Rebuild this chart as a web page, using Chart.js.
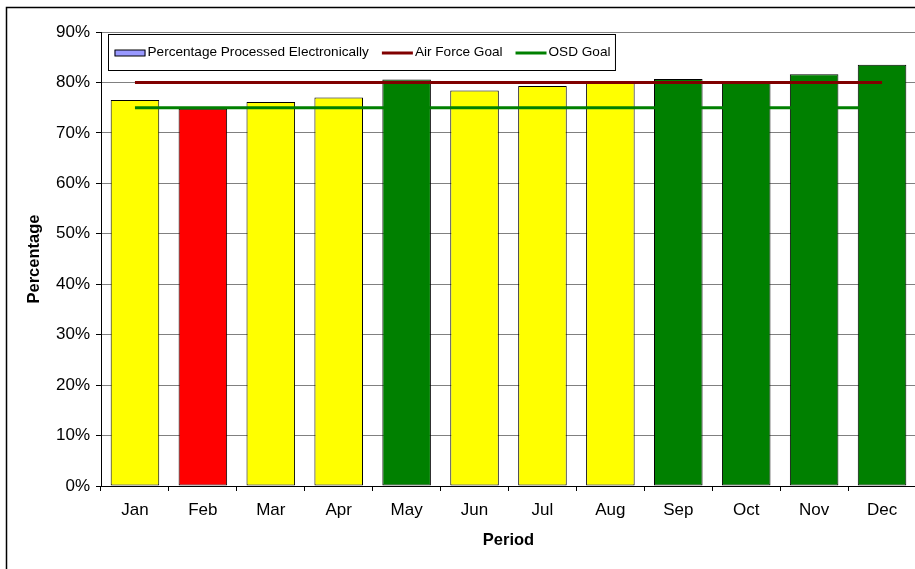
<!DOCTYPE html>
<html>
<head>
<meta charset="utf-8">
<title>Percentage Processed Electronically</title>
<script src="https://cdn.jsdelivr.net/npm/chart.js@4.4.1/dist/chart.umd.min.js"></script>
<style>
  html, body { margin: 0; padding: 0; background: #fff; overflow: hidden; }
  #wrap { width: 930px; height: 569px; position: relative; }
</style>
</head>
<body>
<div id="wrap"><canvas id="chart" width="930" height="569"></canvas></div>
<script>
// Monthly share of items processed electronically, with the two goal lines
const months = ['Jan', 'Feb', 'Mar', 'Apr', 'May', 'Jun', 'Jul', 'Aug', 'Sep', 'Oct', 'Nov', 'Dec'];
const pctElectronic = [0.765, 0.748, 0.761, 0.770, 0.806, 0.784, 0.793, 0.799, 0.807, 0.801, 0.816, 0.835];
const airForceGoal = [0.80, 0.80, 0.80, 0.80, 0.80, 0.80, 0.80, 0.80, 0.80, 0.80, 0.80, 0.80];
const osdGoal = [0.75, 0.75, 0.75, 0.75, 0.75, 0.75, 0.75, 0.75, 0.75, 0.75, 0.75, 0.75];
const yTickValues = [0, 0.1, 0.2, 0.3, 0.4, 0.5, 0.6, 0.7, 0.8, 0.9];

const FONT = "'Liberation Sans', Arial, Helvetica, sans-serif";

// Bar colour by status: below OSD goal red, below Air Force goal yellow, otherwise green
const barColors = pctElectronic.map((v, i) =>
  v < osdGoal[i] ? '#FF0000' : (v < airForceGoal[i] ? '#FFFF00' : '#008000'));

// Outer frame around the whole chart
const framePlugin = {
  id: 'frame',
  beforeDraw(chart) {
    const ctx = chart.ctx;
    ctx.save();
    ctx.fillStyle = '#fff';
    ctx.fillRect(0, 0, chart.width, chart.height);
    ctx.strokeStyle = '#000';
    ctx.lineWidth = 1.5;
    ctx.strokeRect(6.5, 7.5, chart.width + 20, chart.height + 20);
    ctx.restore();
  }
};

// Legend box sitting inside the plot area, top-left
const legendPlugin = {
  id: 'insideLegend',
  afterDatasetsDraw(chart) {
    const ctx = chart.ctx;
    const area = chart.chartArea;
    const items = [
      { label: chart.data.datasets[0].label, kind: 'box', color: '#9999FF' },
      { label: chart.data.datasets[1].label, kind: 'line', color: chart.data.datasets[1].borderColor },
      { label: chart.data.datasets[2].label, kind: 'line', color: chart.data.datasets[2].borderColor }
    ];
    ctx.save();
    ctx.font = '13.6px ' + FONT;
    const left = area.left + 7.5;
    const top = area.top + 2.5;
    const height = 36;
    const cy = top + height / 2;
    const symW = 31, symGap = 2, itemGap = 13, padL = 6, padR = 5;
    let total = padL;
    items.forEach((it, i) => {
      total += symW + symGap + ctx.measureText(it.label).width;
      if (i < items.length - 1) total += itemGap;
    });
    total += padR;
    ctx.fillStyle = '#fff';
    ctx.fillRect(left, top, total, height);
    ctx.strokeStyle = '#000';
    ctx.lineWidth = 1;
    ctx.strokeRect(left, top, total, height);

    let x = left + padL;
    ctx.textBaseline = 'middle';
    ctx.textAlign = 'left';
    items.forEach((it) => {
      if (it.kind === 'box') {
        ctx.fillStyle = it.color;
        ctx.fillRect(x, cy - 2.5, symW, 6);
        ctx.strokeStyle = '#000';
        ctx.lineWidth = 1;
        ctx.strokeRect(x + 0.5, cy - 2.5, symW - 1, 6);
      } else {
        ctx.strokeStyle = it.color;
        ctx.lineWidth = 3;
        ctx.beginPath();
        ctx.moveTo(x, cy + 0.5);
        ctx.lineTo(x + symW, cy + 0.5);
        ctx.stroke();
      }
      x += symW + symGap;
      ctx.fillStyle = '#000';
      ctx.fillText(it.label, x, cy);
      x += ctx.measureText(it.label).width + itemGap;
    });
    ctx.restore();
  }
};

new Chart(document.getElementById('chart'), {
  type: 'bar',
  data: {
    labels: months,
    datasets: [
      {
        type: 'bar',
        label: 'Percentage Processed Electronically',
        data: pctElectronic,
        backgroundColor: barColors,
        borderColor: '#000',
        borderWidth: 1,
        borderSkipped: false,
        barPercentage: 0.715,
        categoryPercentage: 1.0,
        order: 2
      },
      {
        type: 'line',
        label: 'Air Force Goal',
        data: airForceGoal,
        borderColor: '#800000',
        borderWidth: 3,
        pointRadius: 0,
        fill: false,
        tension: 0,
        order: 0
      },
      {
        type: 'line',
        label: 'OSD Goal',
        data: osdGoal,
        borderColor: '#008000',
        borderWidth: 3,
        pointRadius: 0,
        fill: false,
        tension: 0,
        order: 1
      }
    ]
  },
  options: {
    responsive: false,
    animation: false,
    devicePixelRatio: 1,
    layout: { padding: { top: 32, right: 14, bottom: 0, left: 0 } },
    plugins: {
      legend: { display: false },
      tooltip: { enabled: false }
    },
    scales: {
      x: {
        offset: true,
        grid: {
          display: true,
          drawOnChartArea: false,
          drawTicks: true,
          tickLength: 5,
          tickColor: '#000',
          offset: true
        },
        border: { display: true, color: '#000', width: 1 },
        ticks: {
          color: '#000',
          font: { family: FONT, size: 17 },
          padding: 9,
          maxRotation: 0,
          autoSkip: false
        },
        title: {
          display: true,
          text: 'Period',
          color: '#000',
          font: { family: FONT, size: 16.5, weight: 'bold' },
          padding: { top: 0, bottom: 19 }
        },
        afterFit(scale) { scale.height = 83; }
      },
      y: {
        min: 0,
        max: 0.9,
        afterBuildTicks(scale) { scale.ticks = yTickValues.map(v => ({ value: v })); },
        grid: {
          color: '#808080',
          lineWidth: 1,
          drawTicks: true,
          tickLength: 5,
          tickColor: '#000'
        },
        border: { display: true, color: '#000', width: 1 },
        ticks: {
          color: '#000',
          font: { family: FONT, size: 17 },
          padding: 6,
          callback: (v) => Math.round(v * 100) + '%'
        },
        title: {
          display: true,
          text: 'Percentage',
          color: '#000',
          font: { family: FONT, size: 16.5, weight: 'bold' },
          padding: { top: 25, bottom: 0 }
        },
        afterFit(scale) { scale.width = 101; }
      }
    }
  },
  plugins: [framePlugin, legendPlugin]
});
</script>
</body>
</html>
